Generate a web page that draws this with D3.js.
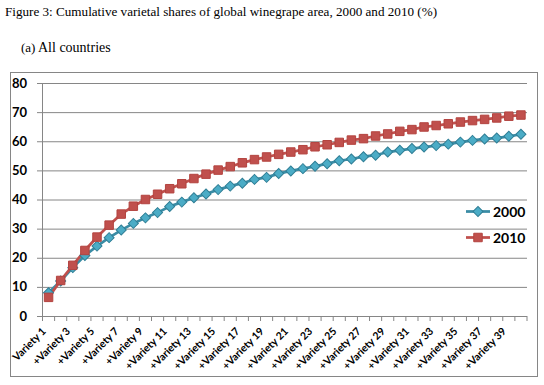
<!DOCTYPE html>
<html>
<head>
<meta charset="utf-8">
<script src="https://cdn.jsdelivr.net/npm/d3@7"></script>
<style>
  body { margin: 0; background: #fff; }
  .caption { font-family: "Liberation Serif", "Times New Roman", serif; font-size: 13.5px; fill: #000; }
  .axis-label { font-family: Lato, sans-serif; font-weight: bold; fill: #000; }
</style>
</head>
<body>
<script>
// Category names along the x axis
const categories = d3.range(1, 41).map(i => (i === 1 ? "" : "+") + "Variety " + i);

// Cumulative shares (%)
const shares2000 = [
  8.0, 12.0, 16.6, 20.8, 24.0, 26.9, 29.5, 31.8, 33.7, 35.5,
  37.6, 39.1, 40.6, 41.9, 43.4, 44.6, 45.6, 46.9, 47.6, 48.9,
  49.8, 50.6, 51.4, 52.3, 53.3, 53.9, 54.7, 55.2, 56.3, 56.9,
  57.5, 58.0, 58.5, 59.0, 59.7, 60.3, 60.8, 61.1, 61.7, 62.4
];
const shares2010 = [
  6.4, 12.2, 17.4, 22.5, 27.1, 31.2, 35.0, 37.7, 40.0, 41.8,
  43.7, 45.4, 47.2, 48.7, 50.1, 51.3, 52.6, 53.7, 54.6, 55.5,
  56.3, 57.1, 58.1, 58.8, 59.6, 60.4, 60.9, 61.8, 62.5, 63.4,
  64.0, 64.9, 65.4, 66.0, 66.6, 67.1, 67.5, 68.0, 68.6, 69.0
];

const seriesNames = ["2000", "2010"];
const yTicks = [0, 10, 20, 30, 40, 50, 60, 70, 80];

const w = 544, h = 385;
const plotLeft = 42.5, plotRight = 527, plotTop = 83, plotBottom = 316;

const svg = d3.select("body").append("svg")
  .attr("width", w)
  .attr("height", h);

// Captions above the chart box
svg.append("text").attr("class", "caption")
  .attr("x", 5).attr("y", 16)
  .attr("textLength", 432).attr("lengthAdjust", "spacingAndGlyphs")
  .text("Figure 3: Cumulative varietal shares of global winegrape area, 2000 and 2010 (%)");
svg.append("text").attr("class", "caption")
  .attr("x", 21).attr("y", 52)
  .style("font-size", "13px")
  .text("(a)");
svg.append("text").attr("class", "caption")
  .attr("x", 38).attr("y", 52)
  .style("font-size", "14px")
  .text("All countries");

// Chart frame
svg.append("rect")
  .attr("x", 10.5).attr("y", 72.5)
  .attr("width", 527).attr("height", 304)
  .attr("fill", "#fff")
  .attr("stroke", "#868686");

// Scales
const xScale = d3.scaleBand().domain(categories).range([plotLeft, plotRight]);
const yScale = d3.scaleLinear().domain([0, 80]).range([plotBottom, plotTop]);
const cx = d => xScale(d) + xScale.bandwidth() / 2;

// Horizontal gridlines (extend left as tick marks)
svg.append("g")
  .attr("transform", `translate(${plotRight}, 0)`)
  .call(d3.axisLeft(yScale).tickValues(yTicks).tickSize(plotRight - plotLeft + 5.5).tickFormat(""))
  .call(g => g.select(".domain").remove())
  .call(g => g.selectAll("line").attr("stroke", "#868686"));

// Y labels
svg.append("g")
  .selectAll("text")
  .data(yTicks)
  .enter()
  .append("text")
  .attr("class", "axis-label")
  .attr("x", 27)
  .attr("y", d => yScale(d) + 4.5)
  .attr("text-anchor", "end")
  .style("font-size", "13px")
  .text(d => d);

// Y axis line
svg.append("line")
  .attr("x1", plotLeft).attr("x2", plotLeft)
  .attr("y1", plotTop).attr("y2", plotBottom)
  .attr("stroke", "#868686");

// X axis ticks between categories
svg.append("g")
  .selectAll("line")
  .data(categories.concat([null]))
  .enter()
  .append("line")
  .attr("x1", (d, i) => i < categories.length ? xScale(d) : plotRight)
  .attr("x2", (d, i) => i < categories.length ? xScale(d) : plotRight)
  .attr("y1", plotBottom)
  .attr("y2", plotBottom + 5)
  .attr("stroke", "#868686");

// X labels, every other category
svg.append("g")
  .selectAll("text")
  .data(categories.filter((d, i) => i % 2 === 0))
  .enter()
  .append("text")
  .attr("class", "axis-label")
  .attr("text-anchor", "end")
  .style("font-size", "10.5px")
  .attr("transform", d => `translate(${cx(d) - 2}, ${plotBottom + 16}) rotate(-45)`)
  .text(d => d);

// Lines and markers
const series = [
  { name: seriesNames[0], values: shares2000, line: "#3A8CA5", fill: "#4BACC6", stroke: "#2F7E95", rot: 45, size: 50 },
  { name: seriesNames[1], values: shares2010, line: "#C0504D", fill: "#C0504D", stroke: "#B3433F", rot: 0, size: 72 }
];

const line = d3.line()
  .x((d, i) => cx(categories[i]))
  .y(d => yScale(d));

series.forEach(s => {
  svg.append("path")
    .datum(s.values)
    .attr("fill", "none")
    .attr("stroke", s.line)
    .attr("stroke-width", 2.75)
    .attr("d", line);
});

series.forEach(s => {
  svg.append("g")
    .selectAll("path")
    .data(s.values)
    .enter()
    .append("path")
    .attr("d", d3.symbol().type(d3.symbolSquare).size(s.size))
    .attr("transform", (d, i) => `translate(${cx(categories[i])}, ${yScale(d)}) rotate(${s.rot})`)
    .attr("fill", s.fill)
    .attr("stroke", s.stroke)
    .attr("stroke-width", 1);
});

// Legend
const legend = svg.append("g");
series.forEach((s, i) => {
  const ly = 211.5 + i * 26;
  legend.append("line")
    .attr("x1", 466).attr("x2", 490)
    .attr("y1", ly).attr("y2", ly)
    .attr("stroke", s.line)
    .attr("stroke-width", 2.75);
  legend.append("path")
    .attr("d", d3.symbol().type(d3.symbolSquare).size(s.size))
    .attr("transform", `translate(478, ${ly}) rotate(${s.rot})`)
    .attr("fill", s.fill)
    .attr("stroke", s.stroke);
  legend.append("text")
    .attr("class", "axis-label")
    .attr("x", 493).attr("y", ly + 5)
    .style("font-size", "14px")
    .text(s.name);
});
</script>
</body>
</html>
